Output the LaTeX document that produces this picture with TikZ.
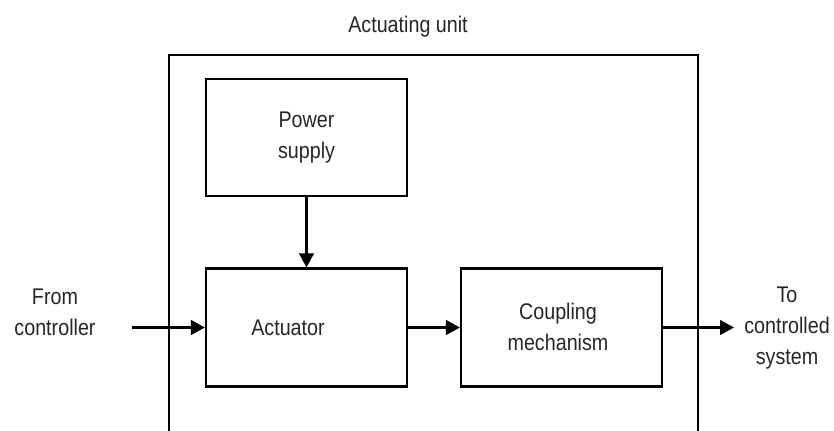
\documentclass[tikz,border=0pt]{standalone}
\usepackage{fontspec}
\setmainfont[FakeStretch=0.87]{Liberation Sans}
\usetikzlibrary{arrows.meta}
\tikzset{
  blk/.style={draw=black, line width=1.6pt, rectangle, inner sep=0pt,
    minimum width=150.75pt, minimum height=88.5pt},
  txt/.style={font=\fontsize{17}{23.25}\selectfont, text=black!85, align=center, inner sep=0pt},
  flow/.style={line width=1.6pt, -{Triangle[length=10.5pt,width=11pt]}},
  frame/.style={line width=1.6pt}
}
\begin{document}
\begin{tikzpicture}[x=0.75pt,y=-0.75pt]
  \useasboundingbox (0,0) rectangle (834,431);
  \clip (0,0) rectangle (834,431);
  % outer actuating unit frame (bottom edge outside picture)
  \coordinate (fbl) at (169,450);
  \coordinate (ftl) at (169,55);
  \coordinate (ftr) at (698,55);
  \coordinate (fbr) at (698,450);
  \draw[frame] (fbl) -- (ftl) -- (ftr) -- (fbr);
  \node[txt, anchor=base] (title) at (408,33) {Actuating unit};
  % blocks
  \node[blk, txt, minimum width=150.75pt, minimum height=87.75pt] (power) at (306.5,137.5) {Power\\supply};
  \node[blk] (act) at (306.5,327.5) {};
  \node[txt] (actlbl) at (288,327.5) {Actuator};
  \node[blk] (coup) at (561.5,327.5) {};
  \node[txt] (couplbl) at (558,326.5) {Coupling\\mechanism};
  % external labels
  \node[txt] (from) at (55,312.5) {From\\controller};
  \node[txt] (to) at (787,328) {To\\controlled\\system};
  \coordinate (in) at (132,327.5);
  \coordinate (out) at (734,327.5);
  % connectors
  \draw[flow] (power.south) -- (act.north);
  \draw[flow] (in) -- (act.west);
  \draw[flow] (act.east) -- (coup.west);
  \draw[flow] (coup.east) -- (out);
\end{tikzpicture}
\end{document}
